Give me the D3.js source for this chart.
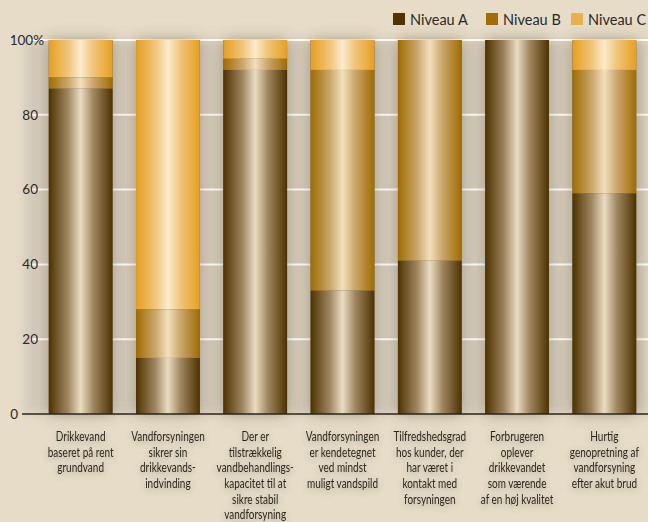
<!DOCTYPE html>
<html>
<head>
<meta charset="utf-8">
<script src="https://cdn.jsdelivr.net/npm/d3@7"></script>
<style>
  body{margin:0;background:#e6dcc8;}
  svg{display:block;}
</style>
</head>
<body>
<div id="chart"></div>
<script>
const categories = [
  ["Drikkevand","baseret på rent","grundvand"],
  ["Vandforsyningen","sikrer sin","drikkevands-","indvinding"],
  ["Der er","tilstrækkelig","vandbehandlings-","kapacitet til at","sikre stabil","vandforsyning"],
  ["Vandforsyningen","er kendetegnet","ved mindst","muligt vandspild"],
  ["Tilfredshedsgrad","hos kunder, der","har været i","kontakt med","forsyningen"],
  ["Forbrugeren","oplever","drikkevandet","som værende","af en høj kvalitet"],
  ["Hurtig","genopretning af","vandforsyning","efter akut brud"]
];
const niveauA = [87, 15, 92, 33, 41, 100, 59];
const niveauB = [3, 13, 3, 59, 59, 0, 33];
const niveauC = [10, 72, 5, 8, 0, 0, 8];
const seriesNames = ["Niveau A","Niveau B","Niveau C"];
const yTicks = [0, 20, 40, 60, 80, 100];

const width = 648, height = 522;
const svg = d3.select("#chart").append("svg").attr("width", width).attr("height", height);
const defs = svg.append("defs");

const colors = {
  "Niveau A": {dark:"#4d3200", mid:"#a08660", light:"#eadcc2", key:"#4f3300"},
  "Niveau B": {dark:"#a06c00", mid:"#c9a66a", light:"#f2e0bc", key:"#a36c00"},
  "Niveau C": {dark:"#e69f1e", mid:"#f0c47a", light:"#fcebcc", key:"#ebb04e"}
};
seriesNames.forEach((s,i)=>{
  const c = colors[s];
  const g = defs.append("linearGradient").attr("id","grad"+i).attr("x1","0").attr("x2","1").attr("y1","0").attr("y2","0");
  [[0,c.dark],[0.3,c.mid],[0.5,c.light],[0.7,c.mid],[1,c.dark]].forEach(([o,col])=>
    g.append("stop").attr("offset",o).attr("stop-color",col));
});
const sh = defs.append("filter").attr("id","shadow").attr("x","-40%").attr("y","-10%").attr("width","180%").attr("height","120%");
sh.append("feDropShadow").attr("dx",0).attr("dy",0).attr("stdDeviation",8).attr("flood-color","#5a4a30").attr("flood-opacity",0.4);
const tsh = defs.append("filter").attr("id","tshadow").attr("x","-20%").attr("y","-40%").attr("width","140%").attr("height","180%");
tsh.append("feDropShadow").attr("dx",0).attr("dy",2).attr("stdDeviation",3).attr("flood-color","#6b5a40").attr("flood-opacity",0.45);
const pb = defs.append("filter").attr("id","pblur").attr("x","-5%").attr("y","-5%").attr("width","110%").attr("height","110%");
pb.append("feGaussianBlur").attr("stdDeviation",5);

const x = d3.scaleBand().domain(d3.range(categories.length)).range([37, 648]).paddingInner(0.27).paddingOuter(0.135);
const y = d3.scaleLinear().domain([0,100]).range([414, 40]);

// plot panel
svg.append("rect").attr("x",24).attr("y",y(100)).attr("width",width-24).attr("height",y(0)-y(100))
  .attr("fill","#d4cbbb").attr("filter","url(#pblur)");

// gridlines
svg.append("g").selectAll("line").data(yTicks.filter(d=>d>0)).enter().append("line")
  .attr("x1",30).attr("x2",width).attr("y1",d=>y(d)).attr("y2",d=>y(d))
  .attr("stroke","#ffffff").attr("stroke-width",2);

// bars
const table = categories.map((c,i)=>({i, "Niveau A":niveauA[i], "Niveau B":niveauB[i], "Niveau C":niveauC[i]}));
const stacked = d3.stack().keys(seriesNames)(table);
const barG = svg.append("g");
barG.selectAll("rect.bg").data(table).enter().append("rect")
  .attr("x",d=>x(d.i)).attr("width",x.bandwidth())
  .attr("y",y(100)).attr("height",y(0)-y(100)).attr("fill","#5a4a30").attr("filter","url(#shadow)");
stacked.forEach((ser,si)=>{
  barG.append("g").selectAll("rect").data(ser).enter().append("rect")
    .attr("x",d=>x(d.data.i)).attr("width",x.bandwidth())
    .attr("y",d=>y(d[1])).attr("height",d=>y(d[0])-y(d[1]))
    .attr("fill","url(#grad"+si+")");
});

// baseline
svg.append("line").attr("x1",22).attr("x2",width).attr("y1",y(0)).attr("y2",y(0))
  .attr("stroke","#2a2418").attr("stroke-width",1.5);

// y axis labels
const yAxis = d3.axisLeft(y).tickValues(yTicks).tickSize(0).tickPadding(0)
  .tickFormat(d=> d===100 ? "100%" : d);
const ya = svg.append("g").attr("transform","translate(44,0)").call(yAxis);
ya.select(".domain").remove();
ya.selectAll("text").attr("font-family","Lato, 'Open Sans', sans-serif").attr("font-size",13.5).attr("fill","#2a2a2a");
ya.selectAll(".tick").filter(d=>d===0).select("text").attr("x",-26);
ya.selectAll(".tick").filter(d=>d!==0 && d!==100).select("text").attr("x",-6);

// category labels, narrowed to mimic a condensed face
const lab = svg.append("g").attr("filter","url(#tshadow)");
categories.forEach((lines,i)=>{
  const cx = x(i)+x.bandwidth()/2;
  const t = lab.append("text").attr("text-anchor","middle")
    .attr("transform",`translate(${cx},0) scale(0.74,1)`)
    .attr("font-family","Lato, 'Open Sans', sans-serif")
    .attr("font-size",13.5).attr("fill","#2a2620");
  lines.forEach((ln,j)=>t.append("tspan").attr("x",0).attr("y",441+j*15.7).text(ln));
});

// legend
const legX = [393, 486, 571];
const leg = svg.append("g");
seriesNames.forEach((s,i)=>{
  leg.append("rect").attr("x",legX[i]).attr("y",13).attr("width",12).attr("height",12).attr("fill",colors[s].key);
  leg.append("text").attr("x",legX[i]+17).attr("y",25).text(s)
    .attr("font-family","Lato, 'Open Sans', sans-serif").attr("font-size",14.5).attr("fill","#2a2a2a");
});
</script>
</body>
</html>
